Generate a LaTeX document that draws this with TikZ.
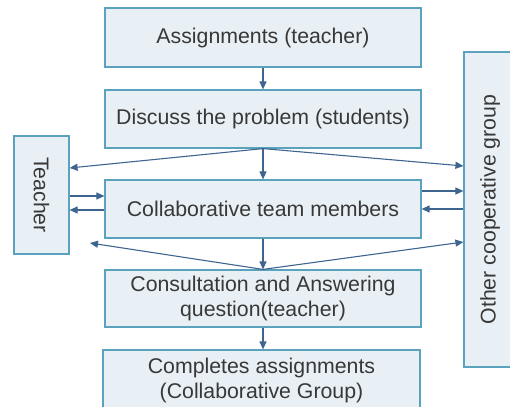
\documentclass[tikz,border=0pt]{standalone}
\usepackage{fontspec}
\setmainfont{Liberation Sans}
\usetikzlibrary{arrows.meta,shadows}
\definecolor{boxfill}{HTML}{E8F0F5}
\definecolor{boxline}{HTML}{5AA2BD}
\definecolor{arrcol}{HTML}{3E6590}
\definecolor{txt}{HTML}{383838}
\tikzset{
  lbl/.style={text=txt, font=\fontsize{21.3}{25}\selectfont},
  box/.style={lbl, draw=boxline, fill=boxfill, line width=1.2pt, align=center,
    inner sep=0pt,
    drop shadow={opacity=0.18, shadow xshift=1.2pt, shadow yshift=-1.2pt}},
  arr/.style={draw=arrcol, line width=1.1pt, -{Triangle[length=8pt,width=7pt]}}
}
\begin{document}
\begin{tikzpicture}[x=1pt,y=-1pt]
\useasboundingbox (0,0) rectangle (510,406);
\clip (0,0) rectangle (510,406);
\node[box, minimum width=316pt, minimum height=59pt] (b1) at (263,37.5) {Assignments (teacher)};
\node[box, minimum width=316pt, minimum height=58pt] (b2) at (263,119) {Discuss the problem (students)};
\node[box, minimum width=316pt, minimum height=58pt] (b3) at (263,209) {Collaborative team members};
\node[box, minimum width=316pt, minimum height=57pt] (b4) at (263,298.5) {Consultation and Answering\\question(teacher)};
\node[box, minimum width=317pt, minimum height=60pt] (b5) at (261.5,380) {Completes assignments\\(Collaborative Group)};
\node[box, minimum width=55pt, minimum height=118pt] (teacher) at (41.5,195) {};
\node[lbl, rotate=-90] (tlabel) at (teacher.center) {Teacher};
\node[box, minimum width=52pt, minimum height=315pt] (other) at (490,209.5) {};
\node[lbl, rotate=90] (olabel) at (other.center) {Other cooperative group};
\coordinate (tl) at (90,243);
\draw[arr] (b1.south) -- (b2.north);
\draw[arr] (b2.south) -- (teacher.east |- 0,168);
\draw[arr] (b2.south) -- (b3.north);
\draw[arr] (b2.south) -- (other.west |- 0,166);
\draw[arr] (teacher.east |- 0,196) -- (b3.west |- 0,196);
\draw[arr] (b3.west |- 0,210) -- (teacher.east |- 0,210);
\draw[arr] (b3.east |- 0,191) -- (other.west |- 0,191);
\draw[arr] (other.west |- 0,209) -- (b3.east |- 0,209);
\draw[arr] (b3.south) -- (b4.north);
\draw[arr] (b4.north) -- (tl);
\draw[arr] (b4.north) -- (other.west |- 0,242);
\draw[arr] (b4.south) -- (b4.south |- b5.north);
\end{tikzpicture}
\end{document}
